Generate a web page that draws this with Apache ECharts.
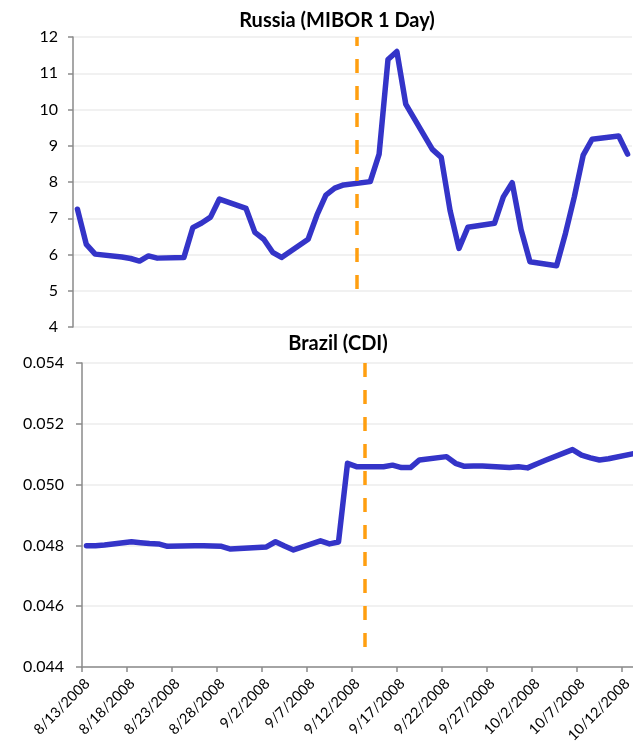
<!DOCTYPE html>
<html>
<head>
<meta charset="utf-8">
<script src="https://cdn.jsdelivr.net/npm/echarts@6/dist/echarts.min.js"></script>
<style>
html,body{margin:0;padding:0;background:#fff;}
#chart{width:633px;height:741px;}
</style>
</head>
<body>
<div id="chart"></div>
<script>
// ---------- data ----------
const startDate = '8/13/2008';
const russiaTitle = 'Russia (MIBOR 1 Day)';
const brazilTitle = 'Brazil (CDI)';

const russiaDates = ['8/13/2008','8/14/2008','8/15/2008','8/18/2008','8/19/2008','8/20/2008','8/21/2008','8/22/2008',
  '8/25/2008','8/26/2008','8/27/2008','8/28/2008','8/29/2008','9/1/2008','9/2/2008','9/3/2008','9/4/2008','9/5/2008',
  '9/8/2008','9/9/2008','9/10/2008','9/11/2008','9/12/2008','9/15/2008','9/16/2008','9/17/2008','9/18/2008','9/19/2008',
  '9/22/2008','9/23/2008','9/24/2008','9/25/2008','9/26/2008','9/29/2008','9/30/2008','10/1/2008','10/2/2008','10/3/2008',
  '10/6/2008','10/7/2008','10/8/2008','10/9/2008','10/10/2008','10/13/2008','10/14/2008'];
const russiaValues = [7.25,6.28,6.01,5.93,5.89,5.82,5.96,5.90,
  5.92,6.74,6.87,7.03,7.53,7.27,6.61,6.42,6.06,5.92,
  6.42,7.09,7.64,7.83,7.92,8.01,8.77,11.38,11.60,10.15,
  8.90,8.68,7.21,6.17,6.75,6.86,7.59,7.98,6.68,5.80,
  5.69,6.58,7.59,8.74,9.18,9.27,8.77];

const brazilDates = ['8/13/2008','8/14/2008','8/15/2008','8/18/2008','8/19/2008','8/20/2008','8/21/2008','8/22/2008',
  '8/25/2008','8/26/2008','8/27/2008','8/28/2008','8/29/2008','9/1/2008','9/2/2008','9/3/2008','9/4/2008','9/5/2008',
  '9/8/2008','9/9/2008','9/10/2008','9/11/2008','9/12/2008','9/15/2008','9/16/2008','9/17/2008','9/18/2008','9/19/2008',
  '9/22/2008','9/23/2008','9/24/2008','9/25/2008','9/26/2008','9/29/2008','9/30/2008','10/1/2008','10/2/2008','10/3/2008',
  '10/6/2008','10/7/2008','10/8/2008','10/9/2008','10/10/2008','10/13/2008'];
const brazilValues = [0.04799,0.04799,0.04801,0.04812,0.04809,0.04806,0.04805,0.04797,
  0.04799,0.04799,0.04798,0.04797,0.04788,0.04793,0.04795,0.04812,0.04798,0.04785,
  0.04815,0.04805,0.04811,0.05070,0.05059,0.05059,0.05064,0.05056,0.05056,0.05081,
  0.05092,0.05070,0.05060,0.05061,0.05061,0.05056,0.05059,0.05055,0.05068,0.05080,
  0.05115,0.05097,0.05088,0.05081,0.05085,0.05103];

// event marker (vertical dashed line), in axis units (days from start)
const russiaEvent = {day: 32.0, from: 12, to: 4.83};
const brazilEvent = {day: 31.44, from: 0.054, to: 0.0443};

const russiaAxis = {min: 4, max: 12, interval: 1, dayMin: 0, dayMax: 63};
const brazilAxis = {min: 0.044, max: 0.054, interval: 0.002, dayMin: 0, dayMax: 62, dayInterval: 5};

// ---------- helpers ----------
function parseDate(s){ const p = s.split('/').map(Number); return Date.UTC(p[2], p[0]-1, p[1]); }
const DAY = 86400000;
const t0 = parseDate(startDate);
function dayIndex(s){ return Math.round((parseDate(s) - t0)/DAY); }
function dayLabel(d){ const dt = new Date(t0 + d*DAY); return (dt.getUTCMonth()+1)+'/'+dt.getUTCDate()+'/'+dt.getUTCFullYear(); }
function pairs(dates, vals){ return dates.map((d,i)=>[dayIndex(d)+0.5, vals[i]]); }

const FONT = 'Lato, "Open Sans", sans-serif';
const BLUE = '#3434C8';
const ORANGE = '#FF9F10';
const AXIS = '#8a8a8a';
const GRID = '#ececec';

const chart = echarts.init(document.getElementById('chart'), null, {renderer:'canvas'});
chart.setOption({
  animation:false,
  backgroundColor:'#fff',
  title:[
    {text: russiaTitle, left: 332, top: 6, textAlign:'center',
     textStyle:{fontFamily:FONT, fontWeight:'bold', fontSize:20, color:'#000'}},
    {text: brazilTitle, left: 333, top: 329, textAlign:'center',
     textStyle:{fontFamily:FONT, fontWeight:'bold', fontSize:20, color:'#000'}}
  ],
  grid:[
    {left:73, top:37, width:559, height:290, outerBoundsMode:'none', containLabel:false},
    {left:82, top:363, width:558, height:304, outerBoundsMode:'none', containLabel:false}
  ],
  xAxis:[
    {gridIndex:0, type:'value', min:russiaAxis.dayMin, max:russiaAxis.dayMax, show:false},
    {gridIndex:1, type:'value', min:brazilAxis.dayMin, max:brazilAxis.dayMax, interval:brazilAxis.dayInterval,
     axisLine:{lineStyle:{color:AXIS, width:1.5}},
     axisTick:{show:true, length:5, lineStyle:{color:AXIS, width:1.5}},
     splitLine:{show:false},
     axisLabel:{rotate:45, margin:9, verticalAlign:'top', fontFamily:FONT, fontSize:14.5, color:'#000',
       showMaxLabel:false, hideOverlap:false,
       formatter:function(v){ return (v % 5 === 0 && v <= 60) ? dayLabel(v) : ''; }}}
  ],
  yAxis:[
    {gridIndex:0, type:'value', min:russiaAxis.min, max:russiaAxis.max, interval:russiaAxis.interval,
     axisLine:{show:true, lineStyle:{color:AXIS, width:1.5}},
     axisTick:{show:true, length:5, lineStyle:{color:AXIS, width:1.5}},
     splitLine:{lineStyle:{color:GRID, width:1.5}},
     axisLabel:{margin:15, fontFamily:FONT, fontSize:16, color:'#000'}},
    {gridIndex:1, type:'value', min:brazilAxis.min, max:brazilAxis.max, interval:brazilAxis.interval,
     axisLine:{show:true, lineStyle:{color:AXIS, width:1.5}},
     axisTick:{show:true, length:6, lineStyle:{color:AXIS, width:1.5}},
     splitLine:{lineStyle:{color:GRID, width:1.5}},
     axisLabel:{margin:18, fontFamily:FONT, fontSize:16, color:'#000',
       formatter:function(v){ return v.toFixed(3); }}}
  ],
  series:[
    {type:'line', xAxisIndex:0, yAxisIndex:0, data:pairs(russiaDates, russiaValues),
     showSymbol:false, lineStyle:{color:BLUE, width:5.5, cap:'round', join:'round'}, z:3,
     markLine:{silent:true, symbol:'none', label:{show:false},
       lineStyle:{color:ORANGE, width:3.5, type:[14,13], dashOffset:5},
       data:[[{coord:[russiaEvent.day, russiaEvent.from]},{coord:[russiaEvent.day, russiaEvent.to]}]]}},
    {type:'line', xAxisIndex:1, yAxisIndex:1, data:pairs(brazilDates, brazilValues),
     showSymbol:false, lineStyle:{color:BLUE, width:5.5, cap:'round', join:'round'}, z:3,
     markLine:{silent:true, symbol:'none', label:{show:false},
       lineStyle:{color:ORANGE, width:3.5, type:[14,13], dashOffset:0},
       data:[[{coord:[brazilEvent.day, brazilEvent.from]},{coord:[brazilEvent.day, brazilEvent.to]}]]}}
  ]
});
</script>
</body>
</html>
